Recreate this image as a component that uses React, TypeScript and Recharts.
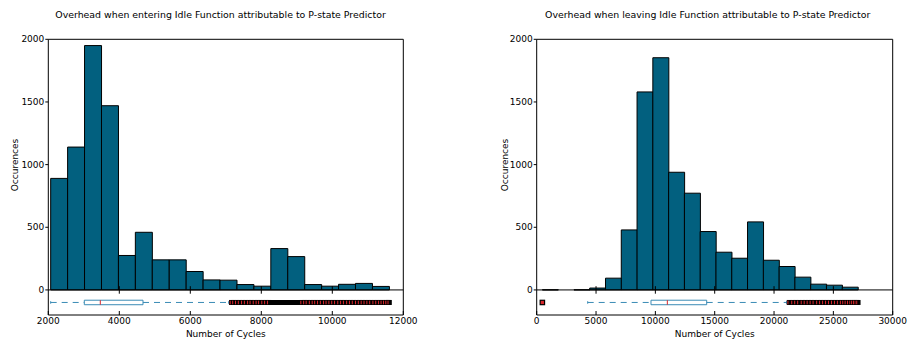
import {
  ComposedChart,
  Bar,
  XAxis,
  YAxis,
  Scatter,
  ReferenceLine,
  ReferenceArea
} from "recharts"

// histogram counts per bin (20 bins each)
const enterCounts = [890, 1140, 1950, 1470, 275, 460, 240, 240, 147, 80, 78, 43, 30, 330, 266, 43, 30, 45, 52, 28]
const enterBinStart = 2067
const enterBinWidth = 477

const leaveCounts = [1, 0, 1, 15, 94, 479, 1580, 1853, 939, 772, 466, 301, 253, 543, 237, 187, 102, 46, 38, 22]
const leaveBinStart = 477
const leaveBinWidth = 1330

// boxplot: whisker low, q1, median, q3, whisker high
const enterBox = [2067, 3014, 3465, 4668, 7080]
const leaveBox = [4297, 9632, 11008, 14326, 21050]

const enterLowFliers: number[] = []
const enterHighFliers = [
  7160, 7230, 7310, 7390, 7480, 7560, 7650, 7720, 7810, 7890, 7960, 8050, 8130, 8210,
  9150, 9230, 9300, 9390, 9470, 9540, 9620, 9700, 9790, 9860, 9940, 10020, 10100, 10190,
  10270, 10350, 10440, 10520, 10600, 10690, 10770, 10850, 10930, 11010, 11090, 11180,
  11260, 11340, 11410, 11480, 11540, 11580, 11606
]

const leaveLowFliers = [477]
const leaveHighFliers = [
  21280, 21600, 21850, 22100, 22400, 22650, 22900, 23150, 23400, 23700, 23950, 24200,
  24450, 24700, 24950, 25200, 25450, 25700, 25900, 26100, 26300, 26500, 26650, 26800,
  26950, 27080
]

const enterTicks = [2000, 4000, 6000, 8000, 10000, 12000]
const leaveTicks = [0, 5000, 10000, 15000, 20000, 25000, 30000]
const countTicks = [0, 500, 1000, 1500, 2000]

const BAR_COLOR = "#02607f"
const BOX_COLOR = "#3a8bb5"
const FLIER_COLOR = "#d8262b"
const BOX_Y = -100
const font = '"DejaVu Sans", sans-serif'
const tickStyle = { fill: "#000", fontSize: 9, fontFamily: font }

// lone outlier: red square with black edge
const FlierMark = (p: any) => (
  <rect x={p.cx - 2.2} y={p.cy - 2.2} width={4.4} height={4.4} fill={FLIER_COLOR} stroke="#000" strokeWidth={1.2} />
)

// packed outliers: edges overlap into black, a sliver of red shows through
const PackedFlier = (p: any) => (
  <g>
    <rect x={p.cx - 2.5} y={p.cy - 2.5} width={5} height={5} fill="#000" />
    <rect x={p.cx - 1.8} y={p.cy - 1.8} width={1} height={3.6} fill={FLIER_COLOR} />
  </g>
)

type HistProps = {
  counts: number[]
  binStart: number
  binWidth: number
  box: number[]
  lowFliers: number[]
  highFliers: number[]
  xTicks: number[]
  width: number
  margin: { top: number; right: number; bottom: number; left: number }
}

function Histogram({ counts, binStart, binWidth, box, lowFliers, highFliers, xTicks, width, margin }: HistProps) {
  const bins = counts.map((count, i) => ({ mid: binStart + (i + 0.5) * binWidth, count }))
  const low = lowFliers.map((x) => ({ x, y: BOX_Y }))
  const high = highFliers.map((x) => ({ x, y: BOX_Y }))
  const [lo, q1, med, q3, hi] = box
  const xDomain = [xTicks[0], xTicks[xTicks.length - 1]]
  const innerTicks = xTicks.slice(1, -1)

  return (
    <ComposedChart width={width} height={340} data={bins} margin={margin} barCategoryGap={0} barGap={0}>
      <XAxis
        xAxisId="bottom"
        type="number"
        dataKey="mid"
        domain={xDomain}
        ticks={xTicks}
        interval={0}
        allowDataOverflow
        stroke="#000"
        tickSize={-4}
        tickMargin={7}
        height={25}
        tick={tickStyle}
      />
      <XAxis
        xAxisId="top"
        orientation="top"
        mirror
        type="number"
        dataKey="x"
        domain={xDomain}
        ticks={xTicks}
        allowDataOverflow
        stroke="#000"
        tickSize={3.5}
        tick={false}
      />
      <YAxis
        yAxisId="left"
        type="number"
        domain={[-200, 2000]}
        ticks={countTicks}
        interval={0}
        allowDataOverflow
        width={40}
        stroke="#000"
        tickSize={3}
        tickMargin={1}
        tick={tickStyle}
      />
      <YAxis
        yAxisId="right"
        orientation="right"
        mirror
        type="number"
        domain={[-200, 2000]}
        ticks={countTicks}
        allowDataOverflow
        stroke="#000"
        tickSize={3.5}
        tick={false}
      />

      <Bar
        xAxisId="bottom"
        yAxisId="left"
        dataKey="count"
        fill={BAR_COLOR}
        stroke="#000"
        strokeWidth={1}
        isAnimationActive={false}
      />

      <ReferenceLine xAxisId="bottom" yAxisId="left" y={0} stroke="#000" strokeWidth={1} />
      {innerTicks.map((t) => (
        <ReferenceLine
          key={"c" + t}
          xAxisId="bottom"
          yAxisId="left"
          segment={[{ x: t, y: -30 }, { x: t, y: 30 }]}
          stroke="#000"
        />
      ))}

      {/* boxplot */}
      <ReferenceLine
        xAxisId="bottom"
        yAxisId="left"
        segment={[{ x: lo, y: BOX_Y }, { x: q1, y: BOX_Y }]}
        stroke={BOX_COLOR}
        strokeDasharray="6 5"
      />
      <ReferenceLine
        xAxisId="bottom"
        yAxisId="left"
        segment={[{ x: q3, y: BOX_Y }, { x: hi, y: BOX_Y }]}
        stroke={BOX_COLOR}
        strokeDasharray="6 5"
      />
      <ReferenceLine
        xAxisId="bottom"
        yAxisId="left"
        segment={[{ x: lo, y: BOX_Y - 10 }, { x: lo, y: BOX_Y + 10 }]}
        stroke={BOX_COLOR}
      />
      <ReferenceLine
        xAxisId="bottom"
        yAxisId="left"
        segment={[{ x: hi, y: BOX_Y - 10 }, { x: hi, y: BOX_Y + 10 }]}
        stroke={BOX_COLOR}
      />
      <ReferenceArea
        xAxisId="bottom"
        yAxisId="left"
        x1={q1}
        x2={q3}
        y1={BOX_Y - 18}
        y2={BOX_Y + 18}
        fill="#fff"
        fillOpacity={1}
        stroke={BOX_COLOR}
        strokeWidth={1}
      />
      <ReferenceLine
        xAxisId="bottom"
        yAxisId="left"
        segment={[{ x: med, y: BOX_Y - 18 }, { x: med, y: BOX_Y + 18 }]}
        stroke={FLIER_COLOR}
      />
      {highFliers.length > 0 && (
        <ReferenceArea
          xAxisId="bottom"
          yAxisId="left"
          x1={highFliers[0]}
          x2={highFliers[highFliers.length - 1]}
          y1={BOX_Y - 20}
          y2={BOX_Y + 20}
          fill="#000"
          fillOpacity={1}
        />
      )}

      <Scatter
        xAxisId="top"
        yAxisId="right"
        data={high}
        dataKey="y"
        shape={PackedFlier}
        isAnimationActive={false}
      />
      <Scatter
        xAxisId="top"
        yAxisId="right"
        data={low}
        dataKey="y"
        shape={FlierMark}
        isAnimationActive={false}
      />
    </ComposedChart>
  )
}

function Caption({ x, y, text, size, rotate }: { x: number; y: number; text: string; size: number; rotate?: boolean }) {
  return (
    <div
      style={{
        position: "absolute",
        left: x,
        top: y,
        transform: `translate(-50%, -50%)${rotate ? " rotate(-90deg)" : ""}`,
        fontSize: size,
        lineHeight: 1,
        whiteSpace: "nowrap",
        color: "#000",
        fontFamily: font
      }}
    >
      {text}
    </div>
  )
}

export default function App() {
  return (
    <div style={{ position: "absolute", left: 0, top: 0, width: 909, height: 340, background: "#fff" }}>
      <div style={{ position: "absolute", left: 0, top: 0 }}>
        <Histogram
          counts={enterCounts}
          binStart={enterBinStart}
          binWidth={enterBinWidth}
          box={enterBox}
          lowFliers={enterLowFliers}
          highFliers={enterHighFliers}
          xTicks={enterTicks}
          width={455}
          margin={{ top: 39.3, right: 51.7, bottom: 0, left: 8.3 }}
        />
      </div>
      <div style={{ position: "absolute", left: 455, top: 0 }}>
        <Histogram
          counts={leaveCounts}
          binStart={leaveBinStart}
          binWidth={leaveBinWidth}
          box={leaveBox}
          lowFliers={leaveLowFliers}
          highFliers={leaveHighFliers}
          xTicks={leaveTicks}
          width={454}
          margin={{ top: 39.3, right: 16.3, bottom: 0, left: 41.7 }}
        />
      </div>

      <Caption x={220.5} y={15} size={9.4} text="Overhead when entering Idle Function attributable to P-state Predictor" />
      <Caption x={707.7} y={15} size={9.4} text="Overhead when leaving Idle Function attributable to P-state Predictor" />
      <Caption x={15} y={164.7} size={9} rotate text="Occurences" />
      <Caption x={505} y={164.7} size={9} rotate text="Occurences" />
      <Caption x={225.8} y={334} size={9} text="Number of Cycles" />
      <Caption x={714.7} y={334} size={9} text="Number of Cycles" />
    </div>
  )
}
